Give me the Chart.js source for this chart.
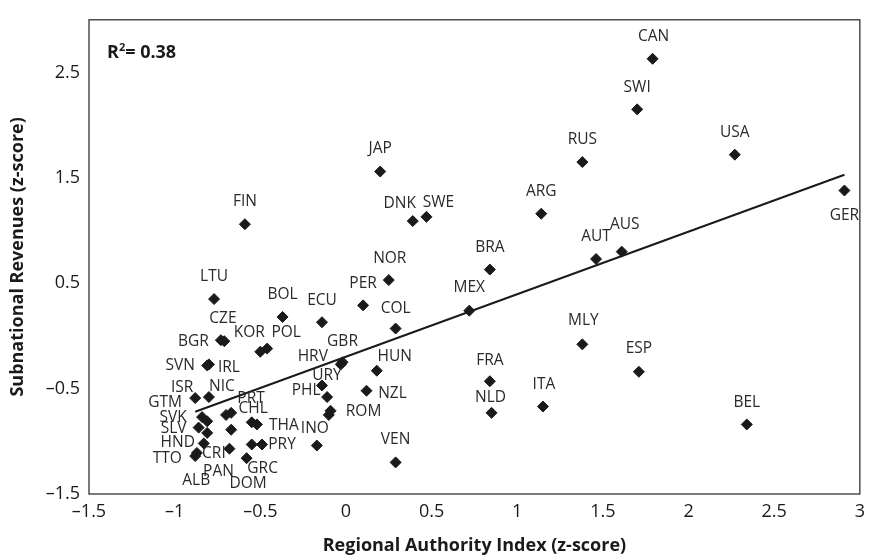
<!DOCTYPE html>
<html>
<head>
<meta charset="utf-8">
<script src="https://cdn.jsdelivr.net/npm/chart.js@4/dist/chart.umd.min.js"></script>
<style>
  html, body { margin: 0; padding: 0; background: #fff; }
  #wrap { width: 872px; height: 560px; }
</style>
</head>
<body>
<div id="wrap"><canvas id="chart" width="872" height="560"></canvas></div>
<script>
// values ('' = unlabelled diamond)
const countries = ['CAN', 'SWI', 'RUS', 'USA', 'JAP', 'ARG', 'FIN', 'DNK', 'SWE', 'GER',
    'AUT', 'AUS', 'BRA', 'NOR', 'LTU', 'PER', 'BOL', 'ECU', 'MEX', 'COL',
    'CZE', 'BGR', 'KOR', 'POL', 'GBR', 'HRV', 'MLY', 'ESP', 'SVN', 'IRL',
    'HUN', 'URY', 'PHL', 'NZL', 'ROM', '', 'INO', 'VEN', 'FRA', 'NLD',
    'ITA', 'BEL', 'ISR', 'NIC', 'GTM', 'SVK', 'SLV', 'ALB', 'HND', 'TTO',
    'CRI', 'PRT', 'CHL', 'DOM', 'PAN', 'GRC', 'THA', '', 'PRY', ''];

const authorityIndex = [1.79, 1.70, 1.38, 2.27, 0.20, 1.14, -0.59, 0.39, 0.47, 2.91,
    1.46, 1.61, 0.84, 0.25, -0.77, 0.10, -0.37, -0.14, 0.72, 0.29,
    -0.73, -0.71, -0.50, -0.46, -0.02, -0.03, 1.38, 1.71, -0.81, -0.80,
    0.18, -0.14, -0.11, 0.12, -0.09, -0.10, -0.17, 0.29, 0.84, 0.85,
    1.15, 2.34, -0.88, -0.80, -0.84, -0.81, -0.86, -0.81, -0.83, -0.88,
    -0.87, -0.70, -0.67, -0.67, -0.68, -0.58, -0.52, -0.55, -0.49, -0.55];

const revenues = [2.63, 2.15, 1.65, 1.72, 1.56, 1.16, 1.06, 1.09, 1.13, 1.38,
    0.73, 0.80, 0.63, 0.53, 0.35, 0.29, 0.18, 0.13, 0.24, 0.07,
    -0.04, -0.05, -0.15, -0.12, -0.25, -0.27, -0.08, -0.34, -0.28, -0.27,
    -0.33, -0.47, -0.58, -0.52, -0.71, -0.75, -1.04, -1.20, -0.43, -0.73,
    -0.67, -0.84, -0.59, -0.58, -0.77, -0.81, -0.87, -0.92, -1.02, -1.14,
    -1.11, -0.75, -0.73, -0.89, -1.07, -1.16, -0.84, -0.82, -1.03, -1.03];

// fitted line end points
const fitX = [-0.88, 2.91];
const fitY = [-0.72, 1.53];

const xTicks = [-1.5, -1, -0.5, 0, 0.5, 1, 1.5, 2, 2.5, 3];
const yTicks = [-1.5, -0.5, 0.5, 1.5, 2.5];
const rSquared = '0.38';

// label placement in pixels, relative to the diamond
const labelOffsets = {
    CAN: [1, -22], SWI: [0, -22], RUS: [0, -22], USA: [0, -22], JAP: [0, -23],
    ARG: [0, -22], FIN: [0, -23], DNK: [-13, -17], SWE: [12, -14], GER: [0, 25],
    AUT: [0, -22], AUS: [3, -27], BRA: [0, -22], NOR: [1, -22], LTU: [0, -22],
    PER: [0, -22], BOL: [0, -22], ECU: [0, -22], MEX: [0, -23], COL: [0, -20],
    CZE: [2, -22], BGR: [-31, 0], KOR: [-11, -19], POL: [19, -16], GBR: [0, -21],
    HRV: [-28, -8], MLY: [1, -24], ESP: [0, -23], SVN: [-27, 0], IRL: [20, 3],
    HUN: [18, -14], URY: [5, -10], PHL: [-21, -6], NZL: [26, 3], ROM: [33, 1],
    INO: [-2, -17], VEN: [0, -23], FRA: [0, -21], NLD: [-1, -15], ITA: [1, -22],
    BEL: [0, -22], ISR: [-13, -11], NIC: [13, -10], GTM: [-37, -14], SVK: [-34, -4],
    SLV: [-25, 1], ALB: [-11, 48], HND: [-26, -1], TTO: [-28, 3], CRI: [17, 1],
    PRT: [25, -16], CHL: [22, -4], DOM: [17, 54], PAN: [-11, 23], GRC: [16, 10],
    THA: [27, 1], PRY: [20, 0]
};

const dash = v => (v < 0 ? '\u2013' + Math.abs(v) : String(v));
const ink = '#1a1a1a';

const frameAndLabels = {
    id: 'frameAndLabels',
    afterDatasetsDraw(chart) {
        const { ctx, chartArea: a, scales: { x, y } } = chart;
        ctx.save();
        ctx.strokeStyle = '#333';
        ctx.lineWidth = 1.3;
        ctx.strokeRect(a.left, a.top, a.right - a.left, a.bottom - a.top);

        ctx.fillStyle = '#2a2a2a';
        ctx.font = '15.5px "Open Sans"';
        ctx.textAlign = 'center';
        ctx.textBaseline = 'middle';
        countries.forEach((name, i) => {
            if (!name) return;
            const off = labelOffsets[name] || [0, -22];
            ctx.fillText(name, x.getPixelForValue(authorityIndex[i]) + off[0],
                y.getPixelForValue(revenues[i]) + off[1]);
        });

        // R² note
        ctx.fillStyle = ink;
        ctx.textAlign = 'left';
        ctx.textBaseline = 'alphabetic';
        let tx = a.left + 18;
        const ty = a.top + 38;
        ctx.font = 'bold 18px "Open Sans"';
        ctx.fillText('R', tx, ty);
        tx += ctx.measureText('R').width;
        ctx.font = 'bold 11px "Open Sans"';
        ctx.fillText('2', tx, ty - 7);
        tx += ctx.measureText('2').width;
        ctx.font = 'bold 18px "Open Sans"';
        ctx.fillText('= ' + rSquared, tx, ty);
        ctx.restore();
    }
};

new Chart(document.getElementById('chart').getContext('2d'), {
    type: 'scatter',
    data: {
        datasets: [
            {
                type: 'line',
                data: fitX.map((v, i) => ({ x: v, y: fitY[i] })),
                borderColor: ink,
                borderWidth: 2,
                pointRadius: 0,
                fill: false
            },
            {
                data: authorityIndex.map((v, i) => ({ x: v, y: revenues[i] })),
                pointStyle: 'rectRot',
                pointRadius: 5.5,
                backgroundColor: ink,
                borderColor: ink,
                borderWidth: 1
            }
        ]
    },
    options: {
        responsive: false,
        animation: false,
        layout: { padding: { top: 7, right: 10, left: 0, bottom: 0 } },
        plugins: { legend: { display: false }, tooltip: { enabled: false } },
        scales: {
            x: {
                type: 'linear',
                min: -1.5,
                max: 3,
                grid: { display: false, drawTicks: false },
                border: { display: false },
                afterBuildTicks: s => { s.ticks = xTicks.map(v => ({ value: v })); },
                afterFit: s => { s.height = 66; },
                ticks: {
                    color: ink,
                    padding: 7,
                    font: { family: 'Open Sans', size: 18 },
                    maxRotation: 0,
                    callback: v => dash(v)
                },
                title: {
                    display: true,
                    text: 'Regional Authority Index (z-score)',
                    color: ink,
                    font: { family: 'Open Sans', size: 18, weight: 'bold' },
                    padding: { top: 0, bottom: 3 }
                }
            },
            y: {
                type: 'linear',
                min: -1.5,
                max: 3,
                grid: { display: false, drawTicks: false },
                border: { display: false },
                afterBuildTicks: s => { s.ticks = yTicks.map(v => ({ value: v })); },
                afterFit: s => { s.width = 89; },
                ticks: {
                    color: ink,
                    padding: 9,
                    font: { family: 'Open Sans', size: 18 },
                    callback: v => dash(v)
                },
                title: {
                    display: true,
                    text: 'Subnational Revenues (z-score)',
                    color: ink,
                    font: { family: 'Open Sans', size: 18, weight: 'bold' },
                    padding: { top: 7, bottom: 0 }
                }
            }
        }
    },
    plugins: [frameAndLabels]
});
</script>
</body>
</html>
